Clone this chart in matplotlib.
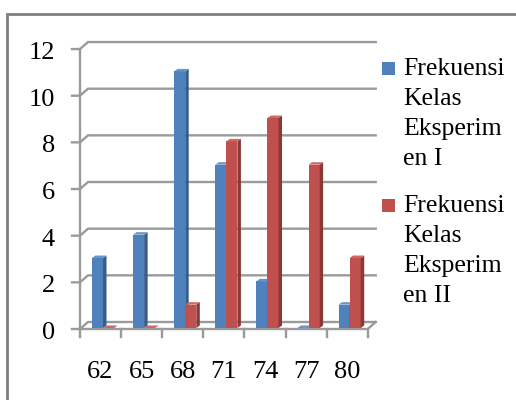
import matplotlib
matplotlib.use('Agg')
import matplotlib.pyplot as plt
from matplotlib.patches import Polygon, Rectangle

categories = ['62', '65', '68', '71', '74', '77', '80']
series1 = [3, 4, 11, 7, 2, 0, 1]
series2 = [0, 0, 1, 8, 9, 7, 3]
series_labels = ['Frekuensi\nKelas\nEksperim\nen I', 'Frekuensi\nKelas\nEksperim\nen II']
yticks = [0, 2, 4, 6, 8, 10, 12]

plt.rcParams['font.family'] = ['Liberation Serif', 'DejaVu Serif']

W, H = 516, 400
fig = plt.figure(figsize=(W / 100, H / 100), dpi=100)

# outer border
fig.patches.append(Rectangle((7 / W, -5 / H), 513 / W, 391 / H, transform=fig.transFigure,
                             fill=False, edgecolor='#7f7f7f', lw=2))

PX_X = 41.1   # pixels per category
PX_Y = 23.33  # pixels per unit
left_px, zero_px, top_px, right_px = 80, 329, 35, 385
ax = fig.add_axes([left_px / W, (H - zero_px) / H, (right_px - left_px) / W, (zero_px - top_px) / H])
ax.set_xlim(-0.5, -0.5 + (right_px - left_px) / PX_X)
ax.set_ylim(0, (zero_px - top_px) / PX_Y)
ax.axis('off')

n = len(categories)
dxw, dyw = 8 / PX_X, 7 / PX_Y
gcol = '#9a9a9a'
glw = 1.7
xr = n - 0.5
fs = 19

# gridlines / walls
for v in yticks:
    ax.plot([-0.5 - 8 / PX_X, -0.5, -0.5 + dxw, xr + dxw], [v, v, v + dyw, v + dyw],
            color=gcol, lw=glw, clip_on=False, zorder=1, solid_joinstyle='miter')
    ax.text(-0.5 - 25 / PX_X, v - 1.5 / PX_Y, str(v), ha='right', va='center_baseline',
            fontsize=fs, clip_on=False)
ax.plot([-0.5, -0.5], [0, yticks[-1]], color=gcol, lw=glw, clip_on=False, zorder=1)
# floor front and right edge
ax.plot([-0.5, xr, xr + dxw], [0, 0, dyw], color=gcol, lw=glw, clip_on=False, zorder=1)
for i in range(n + 1):
    ax.plot([i - 0.5, i - 0.5], [0, -8 / PX_Y], color=gcol, lw=glw, clip_on=False, zorder=1)
for i, c in enumerate(categories):
    ax.text(i, -43 / PX_Y, c, ha='center', va='center', fontsize=fs, clip_on=False)

# bars
bw = 0.27
dxb, dyb = 3.5 / PX_X, 2.5 / PX_Y
by = 1 / PX_Y
styles = [('#4F81BD', '#385D8A', '#6b95c8'), ('#C0504D', '#8C3836', '#cd6a67')]


def bar3d(x0, v, cols, z):
    front, side, top = cols
    ax.add_patch(Rectangle((x0, by), bw, v, facecolor=front, edgecolor='none', zorder=z))
    ax.add_patch(Polygon([(x0 + bw, by), (x0 + bw + dxb, by + dyb), (x0 + bw + dxb, by + v + dyb),
                          (x0 + bw, by + v)], closed=True, facecolor=side, edgecolor='none', zorder=z))
    ax.add_patch(Polygon([(x0, by + v), (x0 + dxb, by + v + dyb), (x0 + bw + dxb, by + v + dyb),
                          (x0 + bw, by + v)], closed=True, facecolor=top, edgecolor='none', zorder=z))


for i in range(n):
    bar3d(i - 0.21, series1[i], styles[0], 3 + i * 2)
    bar3d(i + 0.06, series2[i], styles[1], 4 + i * 2)

# legend
sq = 12.5
for k, (lab, y_sq) in enumerate(zip(series_labels, [62, 199])):
    fig.patches.append(Rectangle((382 / W, (H - y_sq - sq) / H), sq / W, sq / H,
                                 transform=fig.transFigure, facecolor=styles[k][0], edgecolor='none'))
    fig.text(403 / W, (H - y_sq + 4) / H, lab, ha='left', va='top', fontsize=18.5, linespacing=1.47)

fig.savefig('out.png', dpi=100)
